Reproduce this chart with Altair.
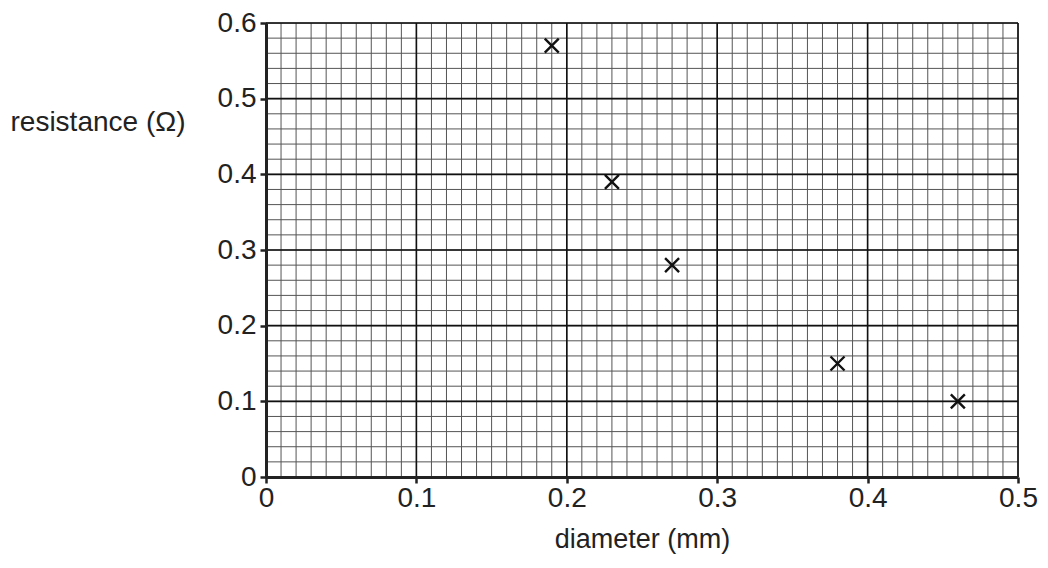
import altair as alt
import pandas as pd

diameter = [0.19, 0.23, 0.27, 0.38, 0.46]
resistance = [0.57, 0.39, 0.28, 0.15, 0.10]

x_ticks = [0, 0.1, 0.2, 0.3, 0.4, 0.5]
y_ticks = [0, 0.1, 0.2, 0.3, 0.4, 0.5, 0.6]
x_minor = [round(i * 0.01, 2) for i in range(0, 51)]
y_minor = [round(i * 0.02, 2) for i in range(0, 31)]

pts = pd.DataFrame({"d": diameter, "r": resistance})
xmin = pd.DataFrame({"v": x_minor})
ymin = pd.DataFrame({"v": y_minor})
xmaj = pd.DataFrame({"v": x_ticks})
ymaj = pd.DataFrame({"v": y_ticks})

FONT = "Liberation Sans"
FS = 28
xs = alt.Scale(domain=[0, 0.5], nice=False, zero=False)
ys = alt.Scale(domain=[0, 0.6], nice=False, zero=False)

xaxis = alt.Axis(
    values=x_ticks, title="diameter (mm)", format="~g",
    labelFont=FONT, labelFontSize=FS, labelColor="#222222", labelPadding=1,
    labelFlush=False, labelOverlap=False,
    titleFont=FONT, titleFontSize=27, titleFontWeight="normal", titleColor="#222222",
    titleY=62, titleBaseline="middle",
    domainColor="#222222", domainWidth=3, tickColor="#222222", tickWidth=2.5, tickSize=6,
    grid=False, zindex=1)
yaxis = alt.Axis(
    values=y_ticks, title="resistance (Ω)", format="~g",
    labelFont=FONT, labelFontSize=FS, labelColor="#222222", labelPadding=4,
    labelFlush=False, labelOverlap=False,
    titleFont=FONT, titleFontSize=FS, titleFontWeight="normal", titleColor="#222222",
    titleAngle=0, titleAlign="left", titleBaseline="middle", titleX=-256, titleY=99,
    domainColor="#222222", domainWidth=3, tickColor="#222222", tickWidth=2.5, tickSize=6,
    grid=False, zindex=1)

minor_x = alt.Chart(xmin).mark_rule(color="#555555", strokeWidth=1).encode(
    x=alt.X("v:Q", scale=xs, axis=xaxis))
minor_y = alt.Chart(ymin).mark_rule(color="#555555", strokeWidth=1).encode(
    y=alt.Y("v:Q", scale=ys, axis=yaxis))
major_x = alt.Chart(xmaj).mark_rule(color="#111111", strokeWidth=1.6).encode(
    x=alt.X("v:Q", scale=xs, axis=xaxis))
major_y = alt.Chart(ymaj).mark_rule(color="#111111", strokeWidth=1.6).encode(
    y=alt.Y("v:Q", scale=ys, axis=yaxis))

points = alt.Chart(pts).mark_point(
    shape="M-1,-1L1,1M-1,1L1,-1", size=196, strokeWidth=2.4, color="#111111", filled=False, opacity=1
).encode(
    x=alt.X("d:Q", scale=xs, axis=xaxis),
    y=alt.Y("r:Q", scale=ys, axis=yaxis),
)

chart = alt.layer(minor_x, minor_y, major_x, major_y, points).properties(
    width=752, height=454,
    autosize=alt.AutoSizeParams(type="none"),
    padding={"left": 258, "top": 15, "right": 22, "bottom": 79},
).configure_view(stroke=None).configure(background="white")

chart.save("out.html", embed_options={"renderer": "svg", "actions": False})
